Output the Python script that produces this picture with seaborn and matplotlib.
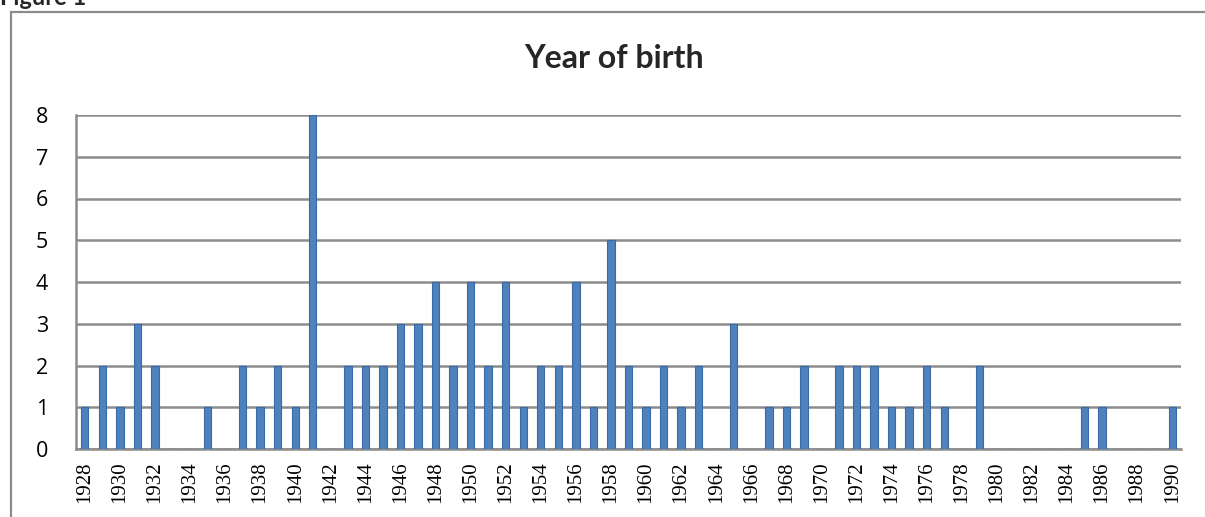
import matplotlib
matplotlib.use("Agg")
import matplotlib.pyplot as plt
import seaborn as sns
import pandas as pd
from matplotlib.patches import Rectangle

years = list(range(1928, 1991))
counts = [1, 2, 1, 3, 2, 0, 0, 1, 0, 2,   # 1928-1937
          1, 2, 1, 8, 0, 2, 2, 2, 3, 3,   # 1938-1947
          4, 2, 4, 2, 4, 1, 2, 2, 4, 1,   # 1948-1957
          5, 2, 1, 2, 1, 2, 0, 3, 0, 1,   # 1958-1967
          1, 2, 0, 2, 2, 2, 1, 1, 2, 1,   # 1968-1977
          0, 2, 0, 0, 0, 0, 0, 1, 1, 0,   # 1978-1987
          0, 0, 1]                        # 1988-1990
title = "Year of birth"
fig_label = "Figure 1"
yticks = list(range(0, 9))

sns.set_theme(style="white")
W, H = 1205, 517
fig = plt.figure(figsize=(W / 100, H / 100), dpi=100)

# Outer chart border (right/bottom cut off in the reference)
fig.patches.append(Rectangle((11 / W, -0.1), 1.2, 1 - 12 / H + 0.1,
                             transform=fig.transFigure, fill=False,
                             edgecolor="#8c8c8c", linewidth=1.6, zorder=0))

ax = fig.add_axes([76 / W, 1 - 449 / H, (1181 - 76) / W, (449 - 115) / H])
df = pd.DataFrame({"year": [str(y) for y in years], "count": counts})
sns.barplot(data=df, x="year", y="count", order=[str(y) for y in years],
            color="#4F81BD", width=0.42, ax=ax, zorder=3,
            edgecolor="#3a6aa6", linewidth=0.8, saturation=1)

ax.set_xlim(-0.5, len(years) - 0.5)
ax.set_ylim(0, 8)
ax.set_yticks(yticks)
ax.set_yticklabels([str(t) for t in yticks], fontfamily="Open Sans", fontsize=15.5)
ax.set_xticks(range(len(years)))
ax.set_xticklabels([str(y) if y % 2 == 0 else "" for y in years],
                   rotation=90, fontfamily="Liberation Serif", fontsize=15)
ax.tick_params(axis="both", length=0, colors="black")
ax.tick_params(axis="y", pad=20)
ax.tick_params(axis="x", pad=9)
ax.set_xlabel("")
ax.set_ylabel("")
ax.yaxis.grid(True, color="#8c8c8c", linewidth=1.8, zorder=0)
ax.set_axisbelow(True)
for s in ["top", "right"]:
    ax.spines[s].set_visible(False)
for s in ["left", "bottom"]:
    ax.spines[s].set_visible(True)
    ax.spines[s].set_color("#8c8c8c")
    ax.spines[s].set_linewidth(1.8)

fig.text(614 / W, 1 - 58 / H, title, ha="center", va="center",
         fontfamily="Lato", fontweight="bold", fontsize=23)
fig.text(0.0, 1 - 5 / H, fig_label, ha="left", va="baseline",
         fontfamily="Lato", fontweight="bold", fontsize=17)

fig.savefig("out.png", dpi=100)
